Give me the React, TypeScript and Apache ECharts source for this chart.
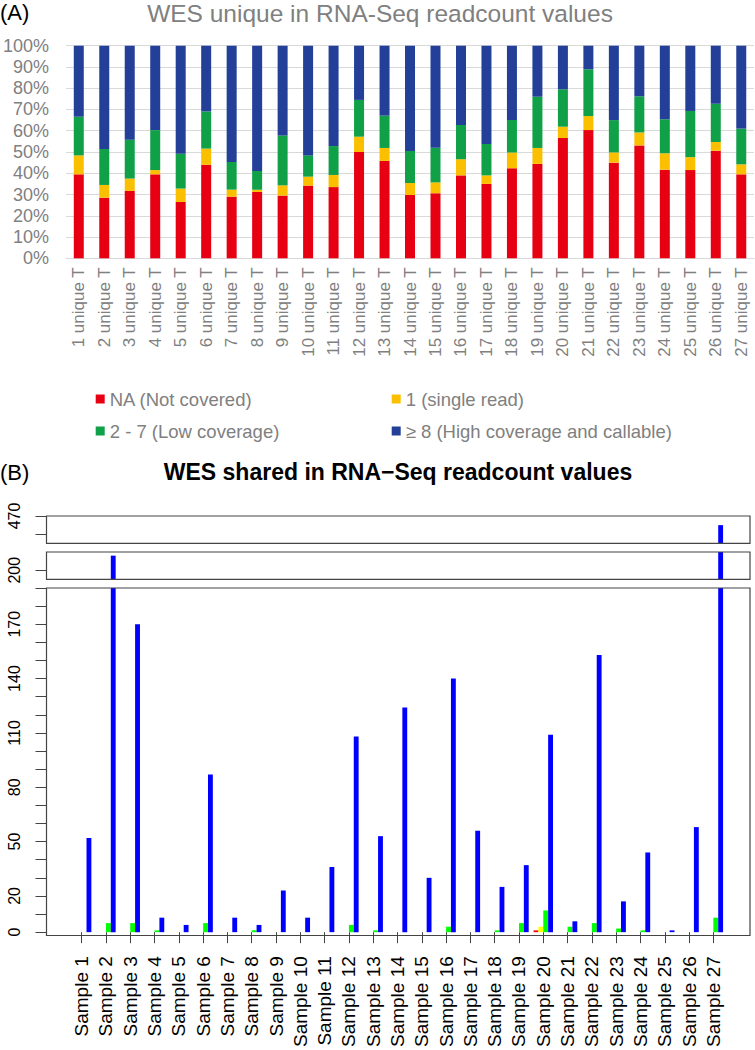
import React, { useEffect, useRef } from "react";
import * as echarts from "echarts";

// ---------- Panel A data (percent of variants) ----------
const uniqueCategories = [
  "1 unique T", "2 unique T", "3 unique T", "4 unique T", "5 unique T", "6 unique T", "7 unique T",
  "8 unique T", "9 unique T", "10 unique T", "11 unique T", "12 unique T", "13 unique T", "14 unique T",
  "15 unique T", "16 unique T", "17 unique T", "18 unique T", "19 unique T", "20 unique T", "21 unique T",
  "22 unique T", "23 unique T", "24 unique T", "25 unique T", "26 unique T", "27 unique T",
];
const aNotCovered = [39.5, 28.5, 31.7, 39.5, 26.5, 44.0, 29.0, 31.2, 29.5, 34.2, 33.5, 50.0, 45.8, 29.8, 30.6, 39.0, 35.0, 42.3, 44.4, 56.6, 60.3, 45.0, 53.1, 41.7, 41.5, 50.6, 39.5];
const aSingleRead = [8.9, 6.0, 5.8, 2.0, 6.3, 7.6, 3.3, 1.1, 4.8, 4.2, 5.7, 7.2, 6.1, 5.6, 5.1, 7.6, 4.0, 7.5, 7.5, 5.3, 6.6, 4.8, 6.1, 7.7, 6.1, 4.1, 4.7];
const aLowCoverage = [18.2, 16.9, 18.3, 18.8, 16.4, 17.5, 13.0, 8.8, 23.5, 10.0, 13.6, 17.3, 15.2, 15.1, 16.3, 16.1, 14.8, 15.2, 24.1, 17.6, 22.0, 15.2, 17.0, 16.0, 21.7, 18.0, 16.8];
const aHighCoverage = [33.4, 48.6, 44.2, 39.7, 50.8, 30.9, 54.7, 58.9, 42.2, 51.6, 47.2, 25.5, 32.9, 49.5, 48.0, 37.3, 46.2, 35.0, 24.0, 20.5, 11.1, 35.0, 23.8, 34.6, 30.7, 27.3, 39.0];
const aSeriesNames = ["NA (Not covered)", "1 (single read)", "2 - 7 (Low coverage)", "≥ 8 (High coverage and callable)"];
const aColors = ["#e60012", "#fac000", "#10a048", "#233f97"];

// ---------- Panel B data (read counts) ----------
const sampleCategories = [
  "Sample 1", "Sample 2", "Sample 3", "Sample 4", "Sample 5", "Sample 6", "Sample 7", "Sample 8", "Sample 9",
  "Sample 10", "Sample 11", "Sample 12", "Sample 13", "Sample 14", "Sample 15", "Sample 16", "Sample 17", "Sample 18",
  "Sample 19", "Sample 20", "Sample 21", "Sample 22", "Sample 23", "Sample 24", "Sample 25", "Sample 26", "Sample 27",
];
const bNotCovered = [0, 0, 0, 0, 0, 0, 0, 0, 0, 0, 0, 0, 0, 0, 0, 0, 0, 0, 0, 1, 0, 0, 0, 0, 0, 0, 0];
const bSingleRead = [0, 0, 0, 0, 0, 0, 0, 0, 0, 0, 0, 0, 0, 0, 0, 0, 0, 0, 0, 3, 0, 0, 0, 0, 0, 0, 0];
const bLowCoverage = [0, 5, 5, 1, 0, 5, 0, 1, 0, 0, 0, 4, 1, 0, 0, 3, 0, 1, 5, 12, 3, 5, 2, 1, 0, 0, 8];
const bHighCoverage = [52, 208, 170, 8, 4, 87, 8, 4, 23, 8, 36, 108, 53, 124, 30, 140, 56, 25, 37, 109, 6, 153, 17, 44, 1, 58, 465];
const bColors = ["#ff0000", "#ffff00", "#00ff00", "#0000ff"];

// broken-axis panels (top to bottom)
const bPanelRanges = [
  { min: 455, max: 470, ticks: [460, 470], labels: [470] },
  { min: 195, max: 210, ticks: [200], labels: [200] },
  { min: 0, max: 190, ticks: null as number[] | null, labels: [0, 20, 50, 80, 110, 140, 170] },
];

const FONT = "Liberation Sans, Arial, Helvetica, sans-serif";

export default function App() {
  const ref = useRef<HTMLDivElement>(null);

  useEffect(() => {
    if (!ref.current) return;
    const chart = echarts.init(ref.current, undefined, { renderer: "svg" });

    // layout (pixels)
    const boxLeft = 46.5;
    const boxRight = 750;
    const bGridLeft = 69.5;
    const bGridRight = 29.5;
    const panelGeom = [
      { top: 516, height: 27.4 },
      { top: 552, height: 27.4 },
      { top: 588, height: 347.5 },
    ];

    const grids: any[] = [{ left: 64, right: 1, top: 45.7, height: 212.6 }];
    const xAxes: any[] = [
      {
        type: "category",
        gridIndex: 0,
        data: uniqueCategories,
        axisLine: { lineStyle: { color: "#d9d9d9" } },
        axisTick: { show: false },
        axisLabel: { rotate: 90, margin: 9, fontSize: 17, color: "#808080", fontFamily: FONT, interval: 0 },
      },
    ];
    const yAxes: any[] = [
      {
        type: "value",
        gridIndex: 0,
        min: 0,
        max: 100,
        interval: 10,
        axisLine: { show: false },
        axisTick: { show: false },
        splitLine: { lineStyle: { color: "#d9d9d9", width: 1 } },
        axisLabel: { formatter: "{value}%", fontSize: 18, color: "#808080", fontFamily: FONT, margin: 17 },
      },
    ];

    const series: any[] = [];
    const aData = [aNotCovered, aSingleRead, aLowCoverage, aHighCoverage];
    aData.forEach((d, k) => {
      series.push({
        type: "bar",
        name: aSeriesNames[k],
        xAxisIndex: 0,
        yAxisIndex: 0,
        stack: "A",
        barWidth: 10,
        data: d,
        itemStyle: { color: aColors[k] },
      });
    });

    const bData = [bNotCovered, bSingleRead, bLowCoverage, bHighCoverage];
    bPanelRanges.forEach((p, i) => {
      const g = panelGeom[i];
      const isLow = i === bPanelRanges.length - 1;
      grids.push({ left: bGridLeft, right: bGridRight, top: g.top, height: g.height });
      xAxes.push({
        type: "category",
        gridIndex: i + 1,
        data: sampleCategories,
        show: isLow,
        axisLine: { show: false },
        axisTick: { show: isLow, alignWithLabel: true, length: 11, lineStyle: { color: "#444" }, interval: 0 },
        axisLabel: { show: isLow, rotate: 90, margin: 24, fontSize: 19, color: "#000", fontFamily: FONT, interval: 0 },
      });
      const yAxis: any = {
        type: "value",
        gridIndex: i + 1,
        min: p.min,
        max: p.max,
        offset: bGridLeft - boxLeft,
        axisLine: { show: false },
        splitLine: { show: false },
        axisTick: { show: true, length: 11, lineStyle: { color: "#444" } },
        axisLabel: {
          rotate: 90,
          margin: 24,
          fontSize: 16,
          color: "#000",
          fontFamily: FONT,
          customValues: p.labels,
          formatter: (v: number) => (p.labels.indexOf(v) >= 0 ? String(v) : ""),
        },
      };
      if (p.ticks) {
        yAxis.axisTick.customValues = p.ticks;
      } else {
        yAxis.interval = 10;
      }
      yAxes.push(yAxis);
      bData.forEach((d, k) => {
        series.push({
          type: "bar",
          name: `B${i}-${k}`,
          xAxisIndex: i + 1,
          yAxisIndex: i + 1,
          barGap: "0%",
          barCategoryGap: "20%",
          clip: true,
          data: d.map((v) => (v > p.min ? v : "-")),
          itemStyle: { color: bColors[k] },
        });
      });
    });

    const boxes = panelGeom.map((g) => ({
      type: "rect",
      shape: { x: boxLeft, y: g.top, width: boxRight - boxLeft, height: g.height },
      style: { fill: "none", stroke: "#444", lineWidth: 1.2 },
      silent: true,
      z: 10,
    }));

    const legendText = { fontSize: 18.5, lineHeight: 20, color: "#808080", fontFamily: FONT };

    chart.setOption({
      animation: false,
      backgroundColor: "#fff",
      grid: grids,
      xAxis: xAxes,
      yAxis: yAxes,
      series,
      legend: [
        {
          orient: "vertical",
          left: 90.7,
          top: 384,
          itemWidth: 9,
          itemHeight: 9,
          itemGap: 12,
          icon: "rect",
          selectedMode: false,
          data: [aSeriesNames[0], aSeriesNames[2]],
          textStyle: legendText,
        },
        {
          orient: "vertical",
          left: 386.7,
          top: 384,
          itemWidth: 9,
          itemHeight: 9,
          itemGap: 12,
          icon: "rect",
          selectedMode: false,
          data: [aSeriesNames[1], aSeriesNames[3]],
          textStyle: legendText,
        },
      ],
      graphic: [
        {
          type: "text",
          left: 0,
          top: 1,
          style: { text: "(A)", fontSize: 22, fill: "#000", fontFamily: FONT },
        },
        {
          type: "text",
          x: 380,
          y: 13,
          style: {
            text: "WES unique in RNA-Seq readcount values",
            fontSize: 24.5,
            fill: "#808080",
            fontFamily: FONT,
            textAlign: "center",
            textVerticalAlign: "middle",
          },
        },
        {
          type: "text",
          x: 0,
          y: 472,
          style: { text: "(B)", fontSize: 22, fill: "#000", fontFamily: FONT, textVerticalAlign: "middle" },
        },
        {
          type: "text",
          x: 398,
          y: 472,
          style: {
            text: "WES shared in RNA\u2212Seq readcount values",
            fontSize: 23,
            fontWeight: "bold",
            fill: "#000",
            fontFamily: FONT,
            textAlign: "center",
            textVerticalAlign: "middle",
          },
        },
        ...boxes,
      ],
    });

    return () => chart.dispose();
  }, []);

  return (
    <div
      ref={ref}
      style={{ position: "absolute", left: 0, top: 0, width: 755, height: 1050, background: "#fff" }}
    />
  );
}
